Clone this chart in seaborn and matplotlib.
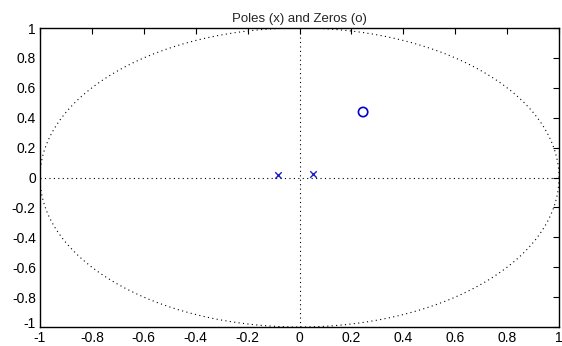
import numpy as np
import pandas as pd
import matplotlib
matplotlib.use("Agg")
import matplotlib.pyplot as plt
import matplotlib.transforms as mtransforms
import seaborn as sns
from matplotlib.ticker import FuncFormatter

sns.set_style("white")
plt.rcParams['font.family'] = ['Liberation Sans', 'DejaVu Sans']

# Data
pole_re = [-0.083, 0.052]
pole_im = [0.020, 0.023]
zero_re = [0.245]
zero_im = [0.438]
ticks = [-1, -0.8, -0.6, -0.4, -0.2, 0, 0.2, 0.4, 0.6, 0.8, 1]

poles = pd.DataFrame({"re": pole_re, "im": pole_im})
zeros = pd.DataFrame({"re": zero_re, "im": zero_im})

fig = plt.figure(figsize=(5.62, 3.46), dpi=100)
ax = fig.add_axes([40/562, 19/346, 519/562, 299/346])

theta = np.linspace(0, 2*np.pi, 400)
ax.plot(np.cos(theta), np.sin(theta), linestyle=(0, (1, 3)), color='black', linewidth=0.8)
ax.axhline(0, linestyle=(0, (1, 3)), color='black', linewidth=0.8)
ax.axvline(0, linestyle=(0, (1, 3)), color='black', linewidth=0.8)

sns.scatterplot(data=poles, x="re", y="im", marker="x", color="#2020c0", s=22,
                linewidth=1.0, ax=ax, zorder=3)
sns.scatterplot(data=zeros, x="re", y="im", marker="o", facecolor="none", edgecolor="#0000d0",
                s=45, linewidth=1.2, ax=ax, zorder=3)

ax.set_xlim(-1, 1)
ax.set_ylim(-1, 1)
ax.set_xticks(ticks)
ax.set_yticks(ticks)
fmt = FuncFormatter(lambda v, p: ("%g" % round(v, 1)))
ax.xaxis.set_major_formatter(fmt)
ax.yaxis.set_major_formatter(fmt)
ax.tick_params(direction='in', length=4, width=0.8, top=True, right=True,
               labelsize=10, colors='black')
ax.tick_params(axis='x', pad=3)
ax.tick_params(axis='y', pad=3)
for s in ax.spines.values():
    s.set_visible(True)
    s.set_color('black')
    s.set_linewidth(1.0)
ax.set_xlabel("")
ax.set_ylabel("")
ax.set_title("Poles (x) and Zeros (o)", fontsize=9.5, pad=4)

# lift the bottom y label a couple of pixels, as in the reference
lab = ax.yaxis.get_major_ticks()[0].label1
lab.set_transform(lab.get_transform() + mtransforms.ScaledTranslation(0, 3/72, fig.dpi_scale_trans))

fig.savefig("out.png", dpi=100)
